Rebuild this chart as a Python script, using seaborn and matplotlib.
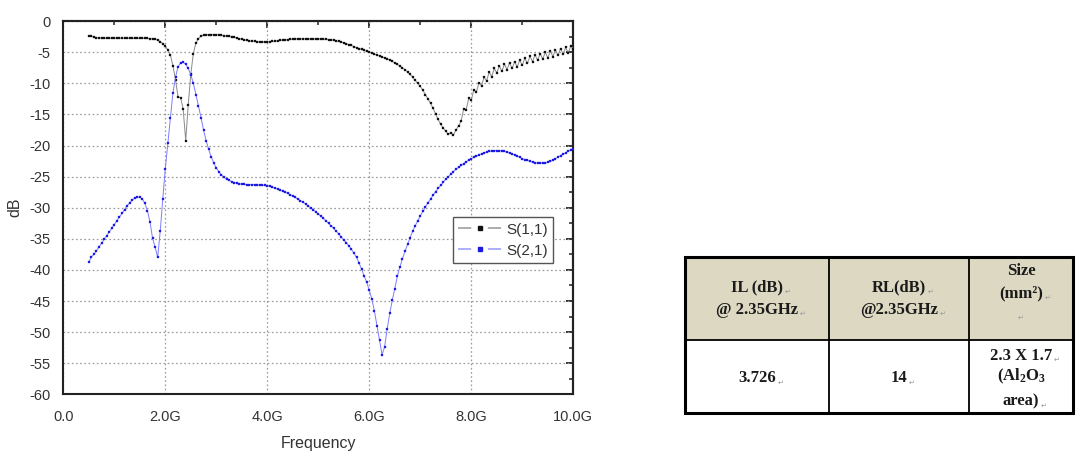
import numpy as np
import pandas as pd
import matplotlib
matplotlib.use("Agg")
import matplotlib.pyplot as plt
from matplotlib.lines import Line2D
from matplotlib.patches import Rectangle
import seaborn as sns

# ---------------- data ----------------
freq_ghz = np.round(np.arange(0.5, 10.0001, 0.05), 2)

s11_db = [
    -2.3, -2.45, -2.55, -2.65, -2.7, -2.75, -2.75, -2.75, -2.75, -2.75,
    -2.75, -2.75, -2.75, -2.75, -2.75, -2.75, -2.75, -2.75, -2.75, -2.75,
    -2.75, -2.75, -2.75, -2.78, -2.8, -2.85, -2.9, -3.05, -3.3, -3.6,
    -4.0, -4.6, -5.4, -7.2, -9.4, -12.2, -12.3, -14.1, -19.2, -13.4,
    -8.5, -5.2, -3.5, -2.8, -2.4, -2.25, -2.2, -2.15, -2.15, -2.15,
    -2.15, -2.2, -2.25, -2.3, -2.4, -2.45, -2.55, -2.6, -2.7, -2.8,
    -2.9, -3.0, -3.1, -3.15, -3.2, -3.25, -3.3, -3.35, -3.35, -3.35,
    -3.35, -3.3, -3.25, -3.2, -3.15, -3.1, -3.05, -3.0, -2.95, -2.9,
    -2.9, -2.85, -2.85, -2.85, -2.85, -2.85, -2.85, -2.85, -2.85, -2.85,
    -2.85, -2.85, -2.9, -2.9, -2.95, -3.0, -3.05, -3.15, -3.25, -3.35,
    -3.45, -3.6, -3.75, -3.9, -4.1, -4.25, -4.4, -4.55, -4.7, -4.85,
    -5.0, -5.15, -5.3, -5.45, -5.6, -5.75, -5.9, -6.05, -6.25, -6.45,
    -6.7, -6.95, -7.2, -7.5, -7.8, -8.15, -8.55, -9.0, -9.5, -10.0,
    -10.5, -11.1, -11.8, -12.5, -13.2, -14.0, -14.9, -15.8, -16.6, -17.2,
    -17.7, -18.2, -17.9, -18.3, -17.5, -16.8, -16.1, -14.1, -14.2, -12.4,
    -12.7, -11.0, -11.4, -9.9, -10.4, -9.0, -9.6, -8.2, -8.9, -7.6,
    -8.3, -7.2, -8.05, -6.9, -7.8, -6.7, -7.6, -6.5, -7.4, -6.25,
    -7.1, -5.95, -6.8, -5.65, -6.5, -5.4, -6.3, -5.2, -6.1, -5.0,
    -5.9, -4.8, -5.7, -4.6, -5.5, -4.4, -5.3, -4.2, -5.1, -4.0,
    -4.4,
]

s21_db = [
    -38.8, -37.9, -37.5, -36.9, -36.3, -35.7, -35.1, -34.5, -33.9, -33.3,
    -32.7, -32.1, -31.5, -30.9, -30.3, -29.7, -29.2, -28.8, -28.45, -28.3,
    -28.3, -28.6, -29.3, -30.5, -32.3, -34.9, -36.3, -38.0, -33.8, -28.6,
    -23.7, -19.6, -15.5, -11.5, -9.0, -7.3, -6.7, -6.6, -6.9, -7.6,
    -8.6, -10.0, -11.8, -13.6, -15.5, -17.5, -19.2, -20.6, -21.8, -22.8,
    -23.6, -24.2, -24.7, -25.1, -25.4, -25.6, -25.8, -25.95, -26.05, -26.15,
    -26.2, -26.25, -26.3, -26.3, -26.3, -26.3, -26.3, -26.35, -26.4, -26.4,
    -26.45, -26.55, -26.7, -26.85, -27.0, -27.2, -27.35, -27.5, -27.7, -27.9,
    -28.1, -28.35, -28.6, -28.85, -29.1, -29.4, -29.7, -30.0, -30.3, -30.65,
    -31.0, -31.35, -31.7, -32.1, -32.5, -32.9, -33.3, -33.75, -34.2, -34.7,
    -35.2, -35.6, -36.1, -36.7, -37.3, -38.0, -38.9, -39.9, -41.0, -42.0,
    -43.3, -44.7, -46.6, -49.0, -51.3, -53.6, -52.4, -49.5, -47.0, -44.9,
    -43.0, -41.0, -39.5, -38.2, -37.0, -35.9, -34.8, -33.8, -32.9, -32.1,
    -31.3, -30.6, -29.9, -29.2, -28.6, -28.0, -27.4, -26.9, -26.4, -25.9,
    -25.4, -25.0, -24.6, -24.2, -23.8, -23.5, -23.2, -22.9, -22.6, -22.35,
    -22.1, -21.9, -21.7, -21.5, -21.35, -21.2, -21.05, -20.95, -20.85, -20.8,
    -20.8, -20.8, -20.85, -20.95, -21.05, -21.2, -21.35, -21.5, -21.7, -21.9,
    -22.1, -22.25, -22.4, -22.55, -22.65, -22.75, -22.8, -22.85, -22.85, -22.8,
    -22.7, -22.55, -22.35, -22.1, -21.85, -21.6, -21.4, -21.15, -20.9, -20.7,
    -20.5,
]

series_names = ["S(1,1)", "S(2,1)"]
x_ticks = [0, 2, 4, 6, 8, 10]
x_tick_labels = ["0.0", "2.0G", "4.0G", "6.0G", "8.0G", "10.0G"]
y_ticks = list(range(0, -61, -5))
y_tick_labels = [str(v) for v in y_ticks]

table_header = [["IL (dB)", "@ 2.35GHz"], ["RL(dB)", "@2.35GHz"], ["Size", "(mm²)", ""]]
table_body = [["3.726"], ["14"], ["2.3 X 1.7", "(Al$_2$O$_3$", "area)"]]
# which lines carry the Word paragraph mark
header_marks = [[True, True], [True, True], [False, True, True]]
body_marks = [[True], [True], [True, False, True]]

# ---------------- style ----------------
sns.set_style("white")
plt.rcParams["font.family"] = ["Liberation Sans", "DejaVu Sans"]
plt.rcParams["mathtext.fontset"] = "custom"
plt.rcParams["mathtext.bf"] = "Liberation Serif:bold"
plt.rcParams["mathtext.rm"] = "Liberation Serif"
plt.rcParams["mathtext.default"] = "bf"
plt.rcParams["lines.scale_dashes"] = False

W, H = 1092, 459
fig = plt.figure(figsize=(W / 100, H / 100), dpi=100)
fig.patch.set_facecolor("white")

# plot axes in pixel layout
L, R, T, B = 63.3, 573.3, 21.2, 394.3
ax = fig.add_axes([L / W, 1 - B / H, (R - L) / W, (B - T) / H])

s11_line = "#8a8a8a"
s11_mark = "#111111"
s21_line = "#7d7dff"
s21_mark = "#1a1ae0"

df = pd.DataFrame({"freq": freq_ghz, "S11": s11_db, "S21": s21_db})
sns.lineplot(data=df, x="freq", y="S11", ax=ax, color=s11_line, linewidth=0.7,
             marker="s", markersize=2.0, markerfacecolor=s11_mark,
             markeredgecolor=s11_mark, markeredgewidth=0.2, sort=False, zorder=3)
sns.lineplot(data=df, x="freq", y="S21", ax=ax, color=s21_line, linewidth=0.7,
             marker="s", markersize=2.0, markerfacecolor=s21_mark,
             markeredgecolor=s21_mark, markeredgewidth=0.2, sort=False, zorder=3)

ax.set_xlim(0, 10)
ax.set_ylim(-60, 0)
ax.set_xticks(x_ticks)
ax.set_xticklabels(x_tick_labels)
ax.set_yticks(y_ticks)
ax.set_yticklabels(y_tick_labels)
ax.set_xticks(np.arange(1, 10, 2), minor=True)
ax.set_yticks(np.arange(-57.5, 0, 5), minor=True)

ax.grid(True, which="major", color="#9a9a9a", linestyle=(0, (1.2, 1.8)), linewidth=0.9)
for s in ax.spines.values():
    s.set_linewidth(1.5)
    s.set_color("#222222")

ax.tick_params(axis="both", which="major", direction="out", length=5, width=1.3,
               labelsize=10.5, colors="#222222", pad=4)
ax.tick_params(axis="both", which="minor", direction="out", length=3, width=1.1,
               colors="#222222")
ax.tick_params(axis="x", which="major", pad=6)
for lab in ax.get_xticklabels() + ax.get_yticklabels():
    lab.set_color("#333333")

# mirrored inward ticks on top and right
top = ax.secondary_xaxis("top")
top.set_xticks(x_ticks)
top.set_xticks(np.arange(1, 10, 2), minor=True)
top.tick_params(which="major", direction="in", length=5, width=1.3, labeltop=False, colors="#222222")
top.tick_params(which="minor", direction="in", length=3, width=1.1, colors="#222222")
top.spines["top"].set_linewidth(1.5)
right = ax.secondary_yaxis("right")
right.set_yticks(y_ticks)
right.set_yticks(np.arange(-57.5, 0, 5), minor=True)
right.tick_params(which="major", direction="in", length=5, width=1.3, labelright=False, colors="#222222")
right.tick_params(which="minor", direction="in", length=3, width=1.1, colors="#222222")
right.spines["right"].set_linewidth(1.5)

ax.set_xlabel("Frequency", fontsize=11.5, color="#333333", labelpad=9)
ax.set_ylabel("dB", fontsize=11.5, color="#333333", labelpad=5)

# legend (Origin style "— · —")
handles = [
    Line2D([0], [0], color="#a6a6a6", lw=1.3, linestyle=(0, (9.5, 12.0)),
           marker="s", markersize=2.2, markerfacecolor=s11_mark, markeredgecolor=s11_mark),
    Line2D([0], [0], color="#a8a8ff", lw=1.3, linestyle=(0, (9.5, 12.0)),
           marker="s", markersize=2.2, markerfacecolor=s21_mark, markeredgecolor=s21_mark),
]
leg = ax.legend(handles, series_names, loc="upper left",
                bbox_to_anchor=(452.5 / W, 1 - 217.3 / H), bbox_transform=fig.transFigure,
                frameon=True, fancybox=False, edgecolor="#555555", framealpha=1,
                fontsize=11, handlelength=2.9, handletextpad=0.25, borderpad=0.35,
                labelspacing=0.45, borderaxespad=0.0, numpoints=1)
leg.get_frame().set_linewidth(1.0)
for t in leg.get_texts():
    t.set_color("#333333")

# ---------------- table ----------------
TL, TR, TT, TB = 685.0, 1072.7, 256.7, 412.7
tax = fig.add_axes([TL / W, 1 - TB / H, (TR - TL) / W, (TB - TT) / H])
tax.set_xlim(0, TR - TL)
tax.set_ylim(TB - TT, 0)
tax.axis("off")

col_edges = [0, 829.3 - TL, 969.3 - TL, TR - TL]
row_edges = [0, 340.0 - TT, TB - TT]
header_fill = "#dcd8c2"

tax.add_patch(Rectangle((0, 0), col_edges[-1], row_edges[1], facecolor=header_fill,
                        edgecolor="none", zorder=1))
for xe in col_edges[1:-1]:
    tax.plot([xe, xe], [0, row_edges[-1]], color="black", lw=1.3, zorder=2)
tax.plot([0, col_edges[-1]], [row_edges[1], row_edges[1]], color="black", lw=1.3, zorder=2)
tax.add_patch(Rectangle((0, 0), col_edges[-1], row_edges[-1], facecolor="none",
                        edgecolor="black", lw=2.2, zorder=3, clip_on=False))

serif = ["Liberation Serif", "DejaVu Serif"]
header_y = [[30.6, 53.3], [30.6, 53.3], [14.0, 36.6, 61.3]]
body_y = [[121.6], [121.6], [99.3, 120.0, 145.0]]


def put_lines(lines, ys, marks, cx):
    for txt, yy, mk in zip(lines, ys, marks):
        if txt:
            t = tax.text(cx, yy, txt, ha="center", va="center", fontsize=12,
                         fontweight="bold", family=serif, color="#1a1a1a", zorder=4)
            if mk:
                tax.annotate("↵", xy=(1, 0.05), xycoords=t, xytext=(1, 0),
                             textcoords="offset points", fontsize=5, color="#999999",
                             ha="left", va="bottom", family=["DejaVu Sans"], zorder=4)
        elif mk:
            tax.text(cx, yy, "↵", ha="center", va="center", fontsize=5,
                     color="#999999", family=["DejaVu Sans"], zorder=4)


for ci in range(3):
    cx = (col_edges[ci] + col_edges[ci + 1]) / 2
    put_lines(table_header[ci], header_y[ci], header_marks[ci], cx)
    put_lines(table_body[ci], body_y[ci], body_marks[ci], cx)

fig.savefig("out.png", dpi=100, facecolor="white")
